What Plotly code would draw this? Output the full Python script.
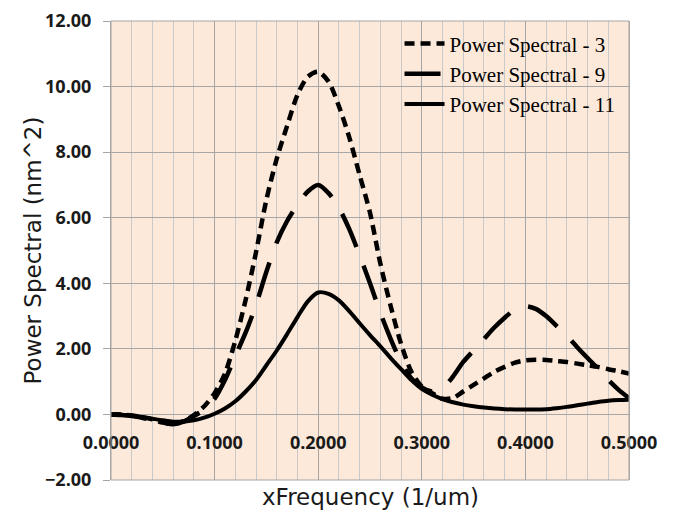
import plotly.graph_objects as go

# ---- data ----
freq = [round(i * 0.01, 2) for i in range(51)]

ps3 = [0.0, 0.0, -0.03, -0.08, -0.15, -0.25, -0.28, -0.2, -0.02, 0.25,
       0.65, 1.25, 2.25, 3.5, 4.95, 6.55, 7.8, 8.8, 9.75, 10.3,
       10.45, 10.15, 9.4, 8.45, 7.3, 6.15, 4.6, 3.3, 2.15, 1.3,
       0.85, 0.65, 0.48, 0.5, 0.7, 0.9, 1.1, 1.3, 1.45, 1.58,
       1.65, 1.67, 1.66, 1.63, 1.6, 1.55, 1.5, 1.45, 1.38, 1.32, 1.25]

ps9 = [0.0, -0.02, -0.05, -0.1, -0.18, -0.25, -0.3, -0.22, -0.05, 0.15,
       0.48, 1.05, 1.78, 2.5, 3.35, 4.35, 5.25, 5.9, 6.4, 6.8,
       7.0, 6.75, 6.3, 5.65, 4.85, 4.0, 3.1, 2.3, 1.6, 1.1,
       0.82, 0.7, 0.8, 1.15, 1.6, 1.95, 2.3, 2.65, 2.95, 3.2,
       3.3, 3.22, 3.0, 2.7, 2.4, 2.05, 1.72, 1.4, 1.05, 0.75, 0.5]

ps11 = [0.0, -0.01, -0.04, -0.08, -0.13, -0.18, -0.22, -0.22, -0.18, -0.1,
        0.02, 0.18, 0.4, 0.7, 1.05, 1.5, 1.95, 2.45, 2.97, 3.45,
        3.72, 3.68, 3.48, 3.15, 2.78, 2.42, 2.08, 1.72, 1.38, 1.05,
        0.78, 0.6, 0.47, 0.37, 0.3, 0.25, 0.21, 0.18, 0.16, 0.15,
        0.15, 0.15, 0.16, 0.19, 0.23, 0.28, 0.33, 0.38, 0.42, 0.44, 0.45]

series_names = ["Power Spectral - 3", "Power Spectral - 9", "Power Spectral - 11"]
x_ticks = [0.0, 0.1, 0.2, 0.3, 0.4, 0.5]
y_ticks = [-2, 0, 2, 4, 6, 8, 10, 12]

x_title = "xFrequency (1/um)"
y_title = "Power Spectral (nm^2)"

# ---- figure ----
fig = go.Figure()
styles = [("10px,6px", 4.5), ("36px,20px", 4.5), ("solid", 4)]
for name, ys, (dash, w) in zip(series_names, [ps3, ps9, ps11], styles):
    fig.add_trace(go.Scatter(
        x=freq, y=ys, mode="lines", name=name,
        line=dict(color="black", width=w, dash=dash, shape="spline", smoothing=0.8),
    ))

grid_major = "#A6A6A6"
grid_minor = "#C9C9C9"
tick_font = dict(family="Open Sans", size=18, color="#1a1a1a", weight="bold")

fig.update_layout(
    width=674, height=515,
    margin=dict(l=111, r=45, t=21, b=35),
    paper_bgcolor="white",
    plot_bgcolor="#FDE9D9",
    showlegend=True,
    legend=dict(
        x=0.557, y=0.995, xanchor="left", yanchor="top",
        bgcolor="rgba(0,0,0,0)",
        font=dict(family="Liberation Serif", size=21, color="black"),
        tracegroupgap=0, itemwidth=40,
    ),
    xaxis=dict(
        range=[0, 0.5], tickvals=x_ticks, tickformat=".4f",
        showgrid=True, gridcolor=grid_major, gridwidth=1,
        minor=dict(dtick=0.02, tick0=0, showgrid=True, gridcolor=grid_minor, gridwidth=1),
        anchor="free", position=2 / 14,
        showline=False, zeroline=False, ticks="",
        ticklabelstandoff=16,
        tickfont=tick_font, automargin=False,
    ),
    yaxis=dict(
        range=[-2, 12], tickvals=y_ticks, tickformat=".2f",
        showgrid=True, gridcolor=grid_major, gridwidth=1,
        zeroline=True, zerolinecolor=grid_major, zerolinewidth=1,
        showline=True, linecolor=grid_major, linewidth=1, mirror=True,
        ticks="outside", ticklen=7, tickcolor=grid_major,
        ticklabelstandoff=8,
        tickfont=tick_font, automargin=False,
    ),
    annotations=[
        dict(text=x_title, xref="paper", yref="paper", x=0.5, y=-0.037,
             xanchor="center", yanchor="middle", showarrow=False,
             font=dict(family="DejaVu Sans", size=23, color="#1a1a1a")),
        dict(text=y_title, xref="paper", yref="paper", x=-0.1506, y=0.5,
             xanchor="center", yanchor="middle", textangle=-90, showarrow=False,
             font=dict(family="DejaVu Sans", size=23, color="#1a1a1a")),
    ],
    shapes=[
        dict(type="rect", xref="x domain", yref="y domain", x0=0, x1=1, y0=0, y1=1,
             line=dict(color=grid_major, width=1), layer="above"),
    ],
)

fig.write_html("out.html", config={"displayModeBar": False},
               post_script="document.body.style.margin='0';")
